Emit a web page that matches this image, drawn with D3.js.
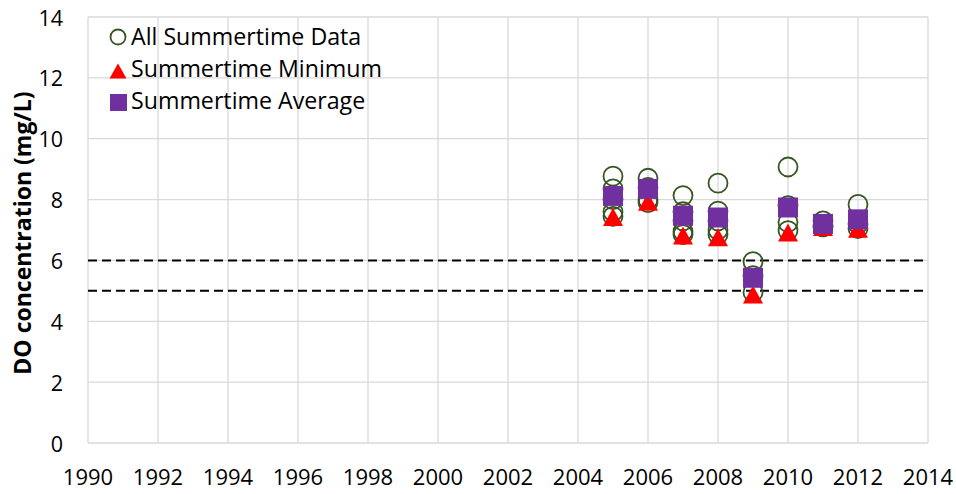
<!DOCTYPE html>
<html><head><meta charset="utf-8">
<script src="https://cdn.jsdelivr.net/npm/d3@7"></script>
<style>body{margin:0;background:#fff}svg{display:block}text{font-family:"Open Sans",sans-serif;fill:#000}</style>
</head><body><svg id="c" width="956" height="494"></svg>
<script>
const years = [2005, 2006, 2007, 2008, 2009, 2010, 2011, 2012];
const allData = [
  [8.77, 8.35, 8.0, 7.6, 7.45],
  [8.7, 8.4, 8.0, 7.9],
  [8.13, 7.6, 7.3, 6.95, 6.85],
  [8.54, 7.62, 7.3, 7.0, 6.85],
  [5.96, 5.5, 4.95],
  [9.07, 7.8, 7.25, 6.98],
  [7.3, 7.15, 7.1],
  [7.84, 7.2, 7.05]
];
const minimum = [7.43, 7.93, 6.82, 6.76, 4.88, 6.92, 7.1, 7.04];
const average = [8.12, 8.35, 7.47, 7.41, 5.43, 7.74, 7.2, 7.35];
const thresholds = [6, 5];
const xTicks = d3.range(1990, 2015, 2);
const yTicks = d3.range(0, 15, 2);
const legendLabels = ["All Summertime Data", "Summertime Minimum", "Summertime Average"];

const svg = d3.select("#c");
const x = d3.scaleLinear().domain([1990, 2014]).range([88, 928]);
const y = d3.scaleLinear().domain([0, 14]).range([443, 17]);
const grid = "#d9d9d9";

// gridlines
svg.append("g").selectAll("line").data(yTicks).join("line")
  .attr("x1", x(1990)).attr("x2", x(2014)).attr("y1", d => y(d)).attr("y2", d => y(d))
  .attr("stroke", grid).attr("stroke-width", 1.3);
svg.append("g").selectAll("line").data(xTicks).join("line")
  .attr("x1", d => x(d)).attr("x2", d => x(d)).attr("y1", y(0)).attr("y2", y(14))
  .attr("stroke", grid).attr("stroke-width", 1.3);

// tick labels
svg.append("g").selectAll("text").data(yTicks).join("text")
  .attr("x", 63).attr("y", d => y(d) + 8.5).attr("text-anchor", "end")
  .attr("font-size", 21.5).text(d => d);
svg.append("g").selectAll("text").data(xTicks).join("text")
  .attr("x", d => x(d)).attr("y", 485).attr("text-anchor", "middle")
  .attr("font-size", 22).text(d => d);

// y title
svg.append("text").attr("transform", `translate(31,233) rotate(-90)`)
  .attr("text-anchor", "middle").attr("font-size", 23).attr("font-weight", "bold")
  .text("DO concentration (mg/L)");

// thresholds
svg.append("g").selectAll("line").data(thresholds).join("line")
  .attr("x1", x(1990)).attr("x2", x(2014)).attr("y1", d => y(d)).attr("y2", d => y(d))
  .attr("stroke", "#000").attr("stroke-width", 2).attr("stroke-dasharray", "9,5");

// all data circles
const pts = [];
years.forEach((yr, i) => allData[i].forEach(v => pts.push([yr, v])));
svg.append("g").selectAll("circle").data(pts).join("circle")
  .attr("cx", d => x(d[0])).attr("cy", d => y(d[1])).attr("r", 9.5)
  .attr("fill", "none").attr("stroke", "#375623").attr("stroke-width", 1.8);

// minimum triangles
const tri = (cx, cy, w, h) => `M${cx},${cy - h/2}L${cx + w/2},${cy + h/2}L${cx - w/2},${cy + h/2}Z`;
svg.append("g").selectAll("path").data(years).join("path")
  .attr("d", (d, i) => tri(x(d), y(minimum[i]), 20, 18)).attr("fill", "#ff0000");

// average squares
svg.append("g").selectAll("rect").data(years).join("rect")
  .attr("x", d => x(d) - 10).attr("y", (d, i) => y(average[i]) - 10)
  .attr("width", 20).attr("height", 20).attr("fill", "#7030a0");

// legend
const lg = svg.append("g");
lg.append("circle").attr("cx", 118).attr("cy", 37).attr("r", 7.5)
  .attr("fill", "none").attr("stroke", "#375623").attr("stroke-width", 1.8);
lg.append("path").attr("d", tri(118, 71, 17, 15)).attr("fill", "#ff0000");
lg.append("rect").attr("x", 110).attr("y", 94).attr("width", 17).attr("height", 17).attr("fill", "#7030a0");
lg.selectAll("text").data(legendLabels).join("text")
  .attr("x", 131).attr("y", (d, i) => 45 + i * 32).attr("font-size", 23.2).text(d => d);
</script></body></html>
